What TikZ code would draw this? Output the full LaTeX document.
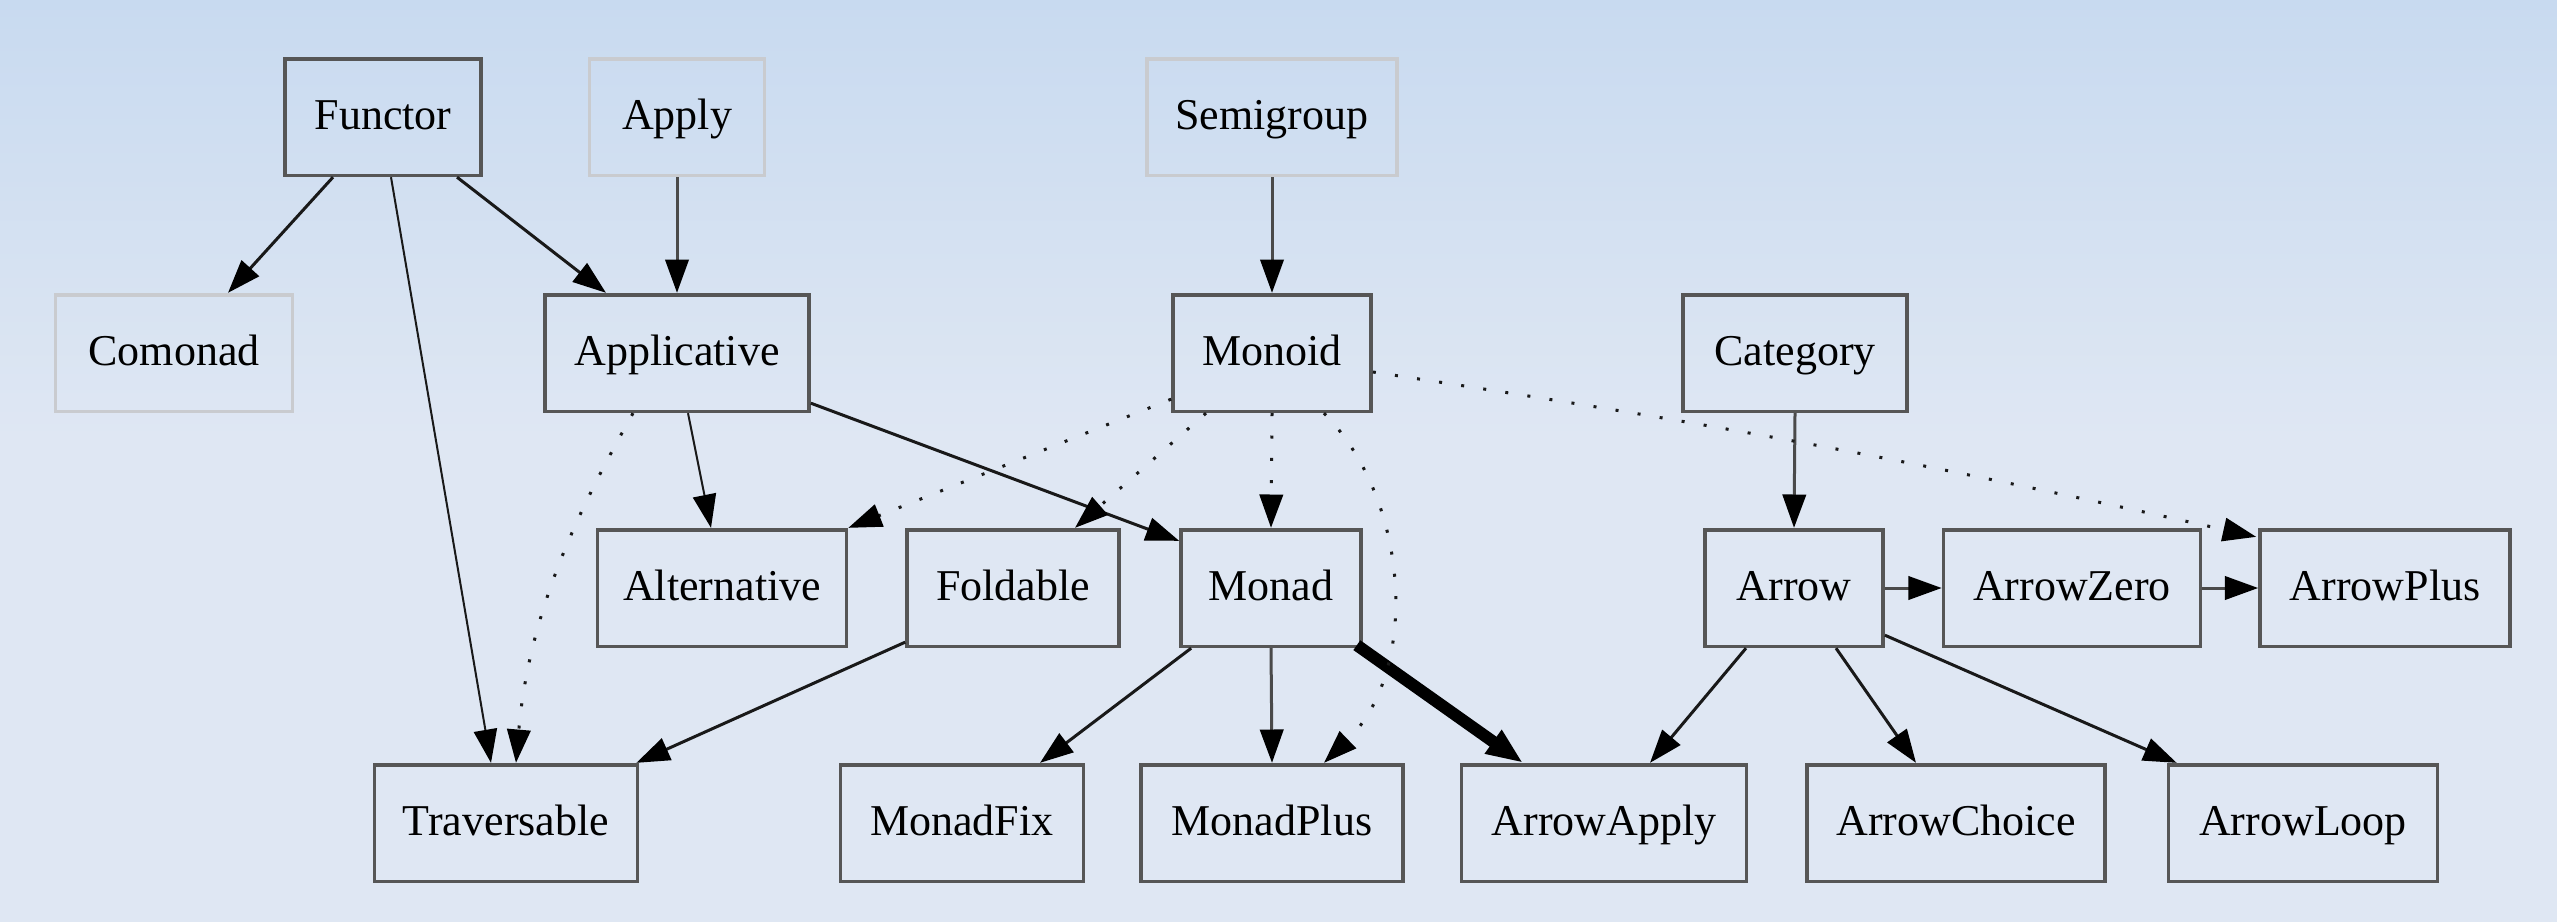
\documentclass[tikz,border=0pt]{standalone}
\usepackage{fontspec}
\setmainfont{Liberation Serif}
\usetikzlibrary{arrows.meta,calc}
\definecolor{bgtop}{HTML}{C8DAF0}
\definecolor{bgbot}{HTML}{DFE7F3}
\definecolor{frame}{HTML}{565656}
\definecolor{lightframe}{HTML}{C9CBCF}
\definecolor{edgegrey}{HTML}{4A4A4A}
\tikzset{
  box/.style={rectangle, draw=frame, line width=1.1pt, inner sep=0pt,
    minimum height=35pt, text height=9.5pt, text depth=2.3pt,
    font=\fontsize{13.2}{15}\selectfont, text=black},
  faint/.style={box, draw=lightframe},
  link/.style={line width=0.9pt, draw=black!90,
    -{Triangle[length=10pt,width=7pt,color=black]}},
  thin link/.style={link, line width=0.6pt},
  grey link/.style={link, draw=edgegrey},
  dotlink/.style={link, dash pattern=on 0.9pt off 5.8pt},
  heavy link/.style={link, line width=3.6pt, draw=black,
    -{Triangle[length=11pt,width=8pt]}},
}
\begin{document}
\begin{tikzpicture}[x=0.3pt,y=-0.3pt]
  % background
  \useasboundingbox (0,0) rectangle (2557,922);
  \fill[top color=bgtop, bottom color=bgbot] (0,0) rectangle (2557,440);
  \fill[bgbot] (0,439) rectangle (2557,922);

  % top row
  \node[box,   minimum width=58.8pt] (Functor)   at (383,117)  {Functor};
  \node[faint, minimum width=52.5pt] (Apply)     at (677,117)  {Apply};
  \node[faint, minimum width=75pt]   (Semigroup) at (1272,117) {Semigroup};

  % second row
  \node[faint, minimum width=71.1pt] (Comonad)     at (174,353)  {Comonad};
  \node[box,   minimum width=79.2pt] (Applicative) at (677,353)  {Applicative};
  \node[box,   minimum width=59.4pt] (Monoid)      at (1272,353) {Monoid};
  \node[box,   minimum width=67.2pt] (Category)    at (1795,353) {Category};

  % third row
  \node[box, minimum width=74.7pt] (Alternative) at (722,588)  {Alternative};
  \node[box, minimum width=63.6pt] (Foldable)    at (1013,588) {Foldable};
  \node[box, minimum width=54pt]   (Monad)       at (1271,588) {Monad};
  \node[box, minimum width=53.4pt] (Arrow)       at (1794,588) {Arrow};
  \node[box, minimum width=77.1pt] (ArrowZero)   at (2072,588) {ArrowZero};
  \node[box, minimum width=75pt]   (ArrowPlus)   at (2385,588) {ArrowPlus};

  % bottom row
  \node[box, minimum width=78.9pt] (Traversable) at (506,823)  {Traversable};
  \node[box, minimum width=72.9pt] (MonadFix)    at (962,823)  {MonadFix};
  \node[box, minimum width=78.6pt] (MonadPlus)   at (1272,823) {MonadPlus};
  \node[box, minimum width=85.5pt] (ArrowApply)  at (1604,823) {ArrowApply};
  \node[box, minimum width=89.4pt] (ArrowChoice) at (1956,823) {ArrowChoice};
  \node[box, minimum width=80.7pt] (ArrowLoop)   at (2303,823) {ArrowLoop};

  % solid edges
  \draw[link] ($(Functor.south)+(-50,0)$) -- ($(Comonad.north)+(54,0)$);
  \draw[thin link] ($(Functor.south)+(8,0)$) -- ($(Traversable.north)+(-15,0)$);
  \draw[link] ($(Functor.south)+(74,0)$) -- ($(Applicative.north)+(-71,0)$);
  \draw[grey link] (Apply.south) -- (Applicative.north);
  \draw[grey link] (Semigroup.south) -- (Monoid.north);
  \draw[thin link] ($(Applicative.south)+(11,0)$) -- ($(Alternative.north)+(-11,0)$);
  \draw[link] ($(Applicative.south east)+(0,-10)$) -- ($(Monad.north west)+(0,13)$);
  \draw[link] ($(Foldable.south west)+(0,-6)$) -- ($(Traversable.north east)+(-3,0)$);
  \draw[grey link] (Category.south) -- (Arrow.north);
  \draw[grey link] (Arrow.east) -- (ArrowZero.west);
  \draw[grey link] (ArrowZero.east) -- (ArrowPlus.west);
  \draw[link] ($(Monad.south west)+(12,0)$) -- ($(MonadFix.north)+(78,0)$);
  \draw[grey link] (Monad.south) -- (MonadPlus.north);
  \draw[heavy link] ($(Monad.south east)+(-6,-3)$) -- ($(ArrowApply.north)+(-81,0)$);
  \draw[link] ($(Arrow.south)+(-48,0)$) -- ($(ArrowApply.north)+(46,0)$);
  \draw[link] ($(Arrow.south)+(42,0)$) -- ($(ArrowChoice.north)+(-40,0)$);
  \draw[link] ($(Arrow.south east)+(0,-13)$) -- ($(ArrowLoop.north west)+(10,0)$);

  % dotted edges
  \draw[dotlink] ($(Applicative.south)+(-44,0)$)
    .. controls (590,490) and (530,600) .. ($(Traversable.north)+(10,0)$);
  \draw[dotlink] ($(Monoid.south west)+(0,-14)$) -- (Alternative.north east);
  \draw[dotlink] ($(Monoid.south)+(-66,0)$) -- ($(Foldable.north)+(62,0)$);
  \draw[dotlink] (Monoid.south) -- (Monad.north);
  \draw[dotlink] ($(Monoid.south)+(52,0)$)
    .. controls (1410,500) and (1420,670) .. ($(MonadPlus.north)+(52,0)$);
  \draw[dotlink] ($(Monoid.east)+(0,19)$) to[bend left=2] ($(ArrowPlus.north west)+(-2,9)$);
\end{tikzpicture}
\end{document}
